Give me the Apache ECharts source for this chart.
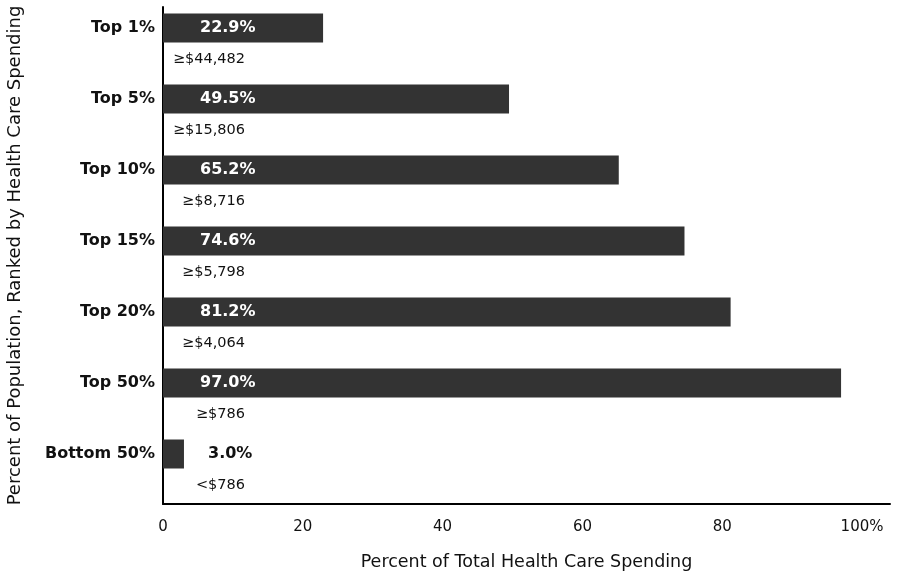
<!DOCTYPE html>
<html>
<head>
<meta charset="utf-8">
<script src="https://cdn.jsdelivr.net/npm/echarts@6/dist/echarts.min.js"></script>
<style>html,body{margin:0;padding:0;background:#fff}#c{width:911px;height:571px}</style>
</head>
<body>
<div id="c"></div>
<script>
var categories = ['Top 1%', 'Top 5%', 'Top 10%', 'Top 15%', 'Top 20%', 'Top 50%', 'Bottom 50%'];
var shares = [22.9, 49.5, 65.2, 74.6, 81.2, 97.0, 3.0];
var thresholds = ['≥$44,482', '≥$15,806', '≥$8,716', '≥$5,798', '≥$4,064', '≥$786', '<$786'];
var xTicks = [0, 20, 40, 60, 80, 100];

var FONT = 'DejaVu Sans';
var chart = echarts.init(document.getElementById('c'), null, {renderer: 'canvas'});

var barData = shares.map(function (v, i) {
  var inside = v > 10;
  return {
    value: v,
    label: {
      color: inside ? '#ffffff' : '#111111',
      position: inside ? [37, '50%'] : [45, '50%']
    }
  };
});

chart.setOption({
  animation: false,
  backgroundColor: '#ffffff',
  grid: {left: 163, right: 21, top: 7, bottom: 67, containLabel: false, outerBoundsMode: 'none'},
  xAxis: {
    type: 'value',
    min: 0,
    max: 104,
    interval: 20,
    name: 'Percent of Total Health Care Spending',
    nameLocation: 'middle',
    nameGap: 49,
    nameTextStyle: {fontFamily: FONT, fontSize: 17.5, color: '#111'},
    axisLine: {show: true, lineStyle: {color: '#000', width: 2}},
    axisTick: {show: false},
    splitLine: {show: false},
    axisLabel: {
      fontFamily: FONT, fontSize: 15, color: '#111', margin: 16,
      showMaxLabel: false,
      formatter: function (v) {
        if (xTicks.indexOf(v) < 0) return '';
        return v === 100 ? '100%' : String(v);
      }
    }
  },
  yAxis: {
    type: 'category',
    data: categories,
    inverse: true,
    name: 'Percent of Population, Ranked by Health Care Spending',
    nameLocation: 'middle',
    nameGap: 139,
    nameTextStyle: {fontFamily: FONT, fontSize: 18, color: '#111'},
    axisLine: {show: true, lineStyle: {color: '#000', width: 2}},
    axisTick: {show: false},
    splitLine: {show: false},
    axisLabel: {
      margin: 8, verticalAlign: 'middle',
      formatter: function (v) { return '{a|' + v + '}\n{b| }'; },
      rich: {
        a: {fontFamily: FONT, fontSize: 16, fontWeight: 'bold', color: '#111', lineHeight: 20, align: 'right'},
        b: {fontSize: 10, lineHeight: 29, align: 'right'}
      }
    }
  },
  series: [
    {
      type: 'bar',
      data: barData,
      barWidth: 29,
      barGap: '0%',
      itemStyle: {color: '#333333'},
      silent: true,
      label: {
        show: true,
        fontFamily: FONT, fontSize: 16, fontWeight: 'bold',
        align: 'left', verticalAlign: 'middle',
        formatter: function (p) { return shares[p.dataIndex].toFixed(1) + '%'; }
      }
    },
    {
      type: 'bar',
      data: shares,
      barWidth: 29,
      itemStyle: {color: 'rgba(0,0,0,0)'},
      silent: true,
      label: {
        show: true,
        position: [82, '50%'],
        offset: [0, 2],
        align: 'right', verticalAlign: 'middle',
        fontFamily: FONT, fontSize: 14.5, color: '#111',
        formatter: function (p) { return thresholds[p.dataIndex]; }
      }
    }
  ]
});
</script>
</body>
</html>
